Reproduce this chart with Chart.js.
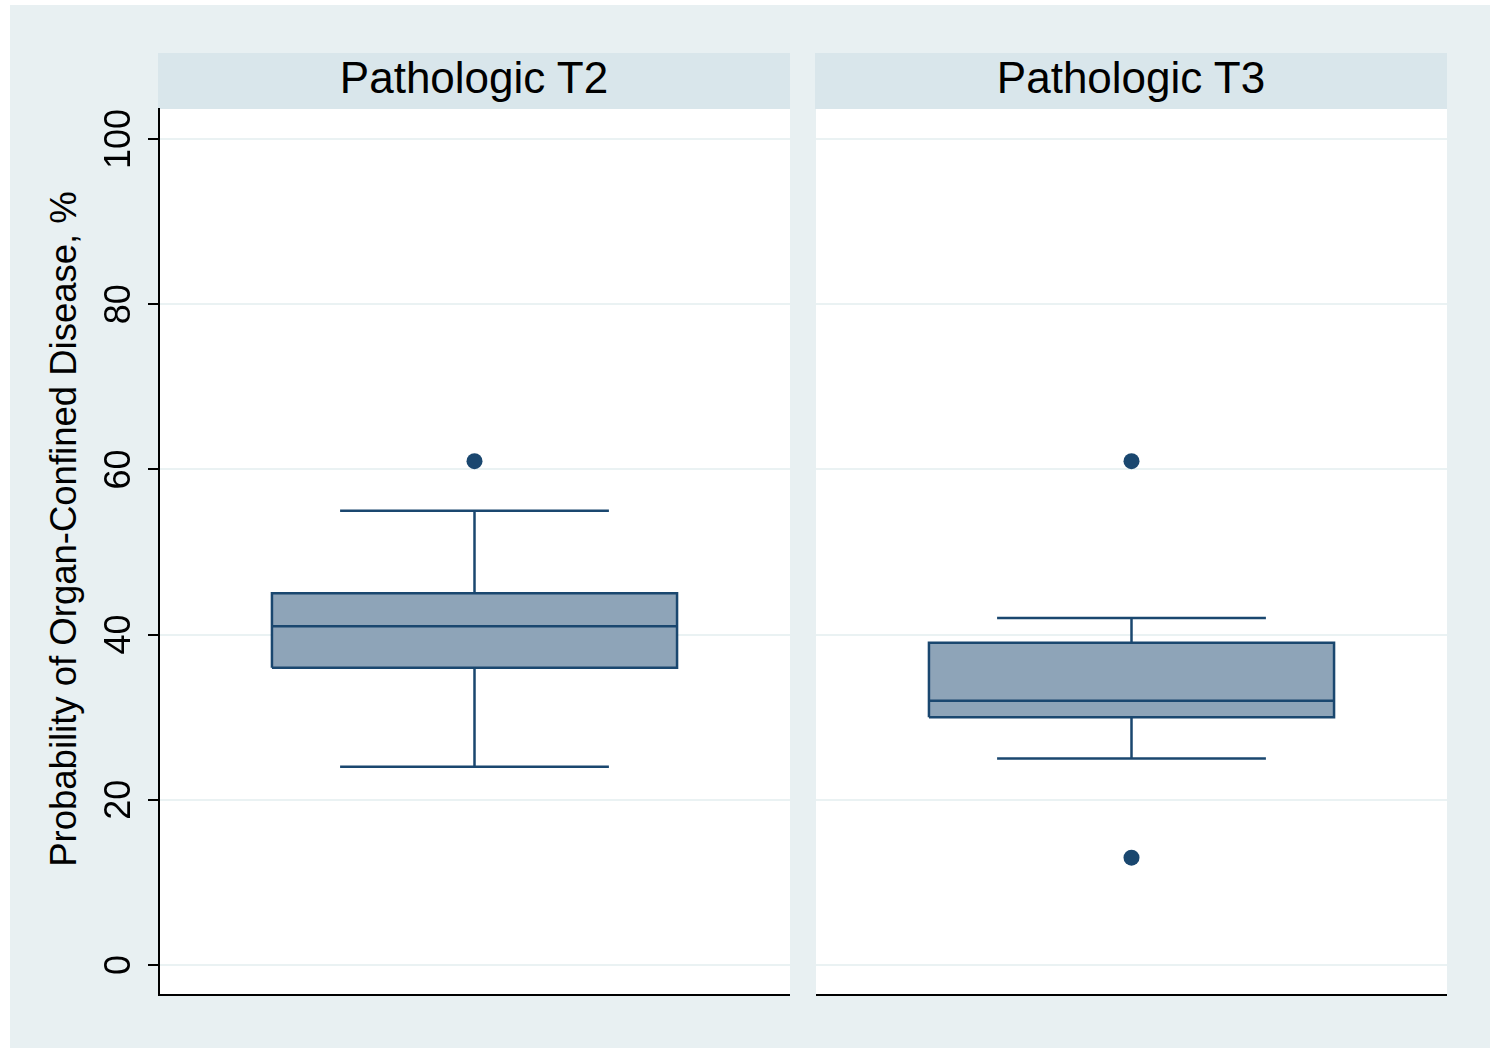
<!DOCTYPE html>
<html>
<head>
<meta charset="utf-8">
<script src="https://cdn.jsdelivr.net/npm/chart.js@4.4.1/dist/chart.umd.min.js"></script>
<style>
  body { margin: 0; background: #fff; font-family: "Liberation Sans", Arial, sans-serif; }
  #page { position: relative; width: 1493px; height: 1050px; }
  #bg { position: absolute; left: 10px; top: 5px; width: 1480px; height: 1043px; background: #e8f0f2; }
  .head { position: absolute; top: 53px; height: 56px; width: 632px; background: #d9e6eb;
          font-size: 44px; line-height: 50px; text-align: center; color: #000; }
  #ytitle { position: absolute; left: 64px; top: 529px; transform: translate(-50%, -50%) rotate(-90deg);
            font-size: 36.5px; white-space: nowrap; color: #000; }
  canvas { position: absolute; }
</style>
</head>
<body>
<div id="page">
  <div id="bg"></div>
  <div class="head" id="h0" style="left:158px"></div>
  <div class="head" id="h1" style="left:815px"></div>
  <div id="ytitle">Probability of Organ-Confined Disease, %</div>
  <div style="position:absolute;left:10px;top:100px;width:780px;height:905px"><canvas id="c0"></canvas></div>
  <div style="position:absolute;left:816px;top:100px;width:631px;height:905px"><canvas id="c1"></canvas></div>
</div>
<script>
const panels = ['Pathologic T2', 'Pathologic T3'];
const q1 = [36, 30];
const median = [41, 32];
const q3 = [45, 39];
const whiskerLow = [24, 25];
const whiskerHigh = [55, 42];
const outliers = [[61], [61, 13]];
const yTicks = [0, 20, 40, 60, 80, 100];

const navy = '#1a476f';
const boxFill = '#8ea4b8';
const gridCol = '#eaf2f3';

// x positions inside each panel (0..1)
const boxL = 0.179, boxR = 0.821, capL = 0.287, capR = 0.713, mid = 0.5;

function seg(x1, y1, x2, y2) {
  return { type: 'scatter', data: [{x: x1, y: y1}, {x: x2, y: y2}], showLine: true,
           borderColor: navy, borderWidth: 2.5, pointRadius: 0, fill: false };
}

// white plot region
const plotBg = {
  id: 'plotBg',
  beforeDraw(chart) {
    const a = chart.chartArea, ctx = chart.ctx;
    ctx.save();
    ctx.fillStyle = '#fff';
    ctx.fillRect(a.left, a.top, a.right - a.left, a.bottom - a.top);
    ctx.restore();
  }
};

function makePanel(i) {
  document.getElementById('h' + i).textContent = panels[i];
  // chart.js draws the last dataset first, so the box goes at the end
  const datasets = [
    { type: 'scatter', data: outliers[i].map(v => ({x: mid, y: v})), pointRadius: 8,
      pointBackgroundColor: navy, pointBorderColor: navy, pointBorderWidth: 0 },
    seg(boxL, median[i], boxR, median[i]),
    seg(mid, q3[i], mid, whiskerHigh[i]),
    seg(capL, whiskerHigh[i], capR, whiskerHigh[i]),
    seg(mid, q1[i], mid, whiskerLow[i]),
    seg(capL, whiskerLow[i], capR, whiskerLow[i]),
    { type: 'scatter', showLine: true, fill: 'shape', backgroundColor: boxFill, borderColor: navy,
      borderWidth: 2.5, pointRadius: 0,
      data: [{x: boxL, y: q1[i]}, {x: boxR, y: q1[i]}, {x: boxR, y: q3[i]}, {x: boxL, y: q3[i]}, {x: boxL, y: q1[i]}] }
  ];
  const first = i === 0;
  new Chart(document.getElementById('c' + i), {
    type: 'scatter',
    data: { datasets },
    plugins: [plotBg],
    options: {
      responsive: true,
      maintainAspectRatio: false,
      animation: false,
      layout: { autoPadding: false, padding: { top: 9, left: 0, right: 0, bottom: 0 } },
      plugins: { legend: { display: false }, tooltip: { enabled: false } },
      scales: {
        x: {
          type: 'linear', min: 0, max: 1,
          grid: { display: false, drawTicks: false },
          ticks: { display: false },
          border: { display: true, color: '#000', width: 2 },
          afterFit: s => { s.height = 10; s.paddingLeft = 0; s.paddingRight = 0; }
        },
        y: {
          type: 'linear', min: -3.63, max: 103.63,
          afterBuildTicks: s => { s.ticks = yTicks.map(v => ({ value: v })); },
          grid: { color: gridCol, lineWidth: 2, drawTicks: first, tickLength: 11, tickColor: '#000', tickWidth: 2 },
          border: { display: first, color: '#000', width: 2 },
          ticks: {
            display: first, minRotation: 90, maxRotation: 90, crossAlign: 'center', padding: -2,
            color: '#000', font: { family: 'Liberation Sans', size: 36 }
          },
          afterFit: s => { s.width = first ? 149 : 0; s.paddingTop = 0; s.paddingBottom = 0; }
        }
      }
    }
  });
}

makePanel(0);
makePanel(1);
</script>
</body>
</html>
